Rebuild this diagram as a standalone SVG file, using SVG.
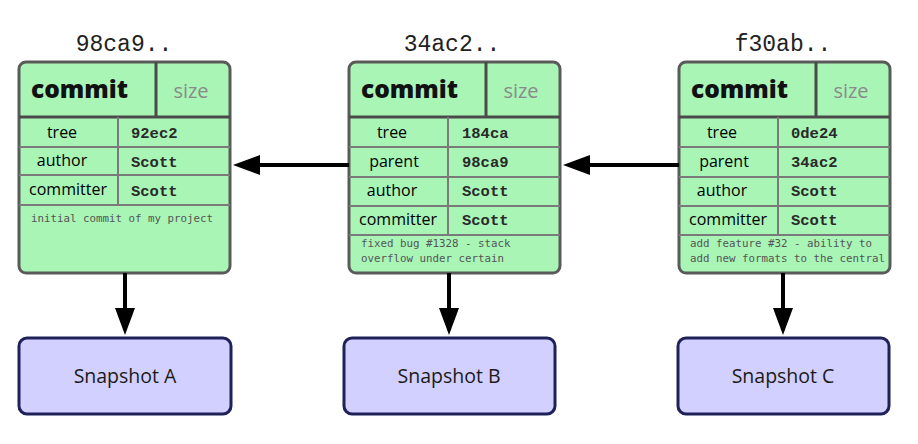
<svg xmlns="http://www.w3.org/2000/svg" width="918" height="444" viewBox="0 0 918 444">
<style>
.box{fill:#a8f5b6;stroke:#5a5a5a;stroke-width:3}
.hd{stroke:#4a4a4a;stroke-width:3;fill:none}
.ln{stroke:#7a7a7a;stroke-width:2;fill:none}
.title{font-family:"Liberation Mono",monospace;font-size:23px;fill:#222;text-anchor:middle}
.commit{font-family:"Open Sans","Noto Sans",sans-serif;font-weight:800;font-size:24.5px;fill:#111}
.size{font-family:"Open Sans","Noto Sans",sans-serif;font-size:20px;fill:#8a8a8a;text-anchor:middle}
.lbl{font-family:"Open Sans","Noto Sans",sans-serif;font-size:16px;fill:#000;text-anchor:middle}
.val{font-family:"Liberation Mono",monospace;font-weight:bold;font-size:15.5px;fill:#2a2a2a}
.msg{font-family:"DejaVu Sans Mono",monospace;font-size:10.8px;fill:#555}
.snap{fill:#d2d0ff;stroke:#1f2258;stroke-width:3}
.snt{font-family:"Open Sans","Noto Sans",sans-serif;font-size:19.5px;fill:#1a1a1a;text-anchor:middle}
.arr{stroke:#000;stroke-width:4;fill:none}
.head{fill:#000}
</style>

<g id="commit-98ca9">
<text class="title" x="124" y="51">98ca9..</text>
<rect class="box" x="19" y="62" width="211" height="211" rx="7"/>
<line class="hd" x1="19" y1="117" x2="230" y2="117"/>
<line class="hd" x1="156" y1="62" x2="156" y2="117"/>
<line class="ln" x1="118" y1="117" x2="118" y2="205"/>
<line class="ln" x1="19" y1="147" x2="230" y2="147"/>
<line class="ln" x1="19" y1="175" x2="230" y2="175"/>
<line class="ln" x1="19" y1="205" x2="230" y2="205"/>
<text class="commit" x="31" y="98">commit</text>
<text class="size" x="191" y="98">size</text>
<text class="lbl" x="62" y="138">tree</text>
<text class="lbl" x="62" y="166">author</text>
<text class="lbl" x="68" y="195">committer</text>
<text class="val" x="131" y="138">92ec2</text>
<text class="val" x="131" y="167">Scott</text>
<text class="val" x="131" y="196">Scott</text>
<text class="msg" x="31" y="222">initial commit of my project</text>
</g>

<g id="commit-34ac2">
<text class="title" x="452" y="51">34ac2..</text>
<rect class="box" x="349" y="62" width="211" height="211" rx="7"/>
<line class="hd" x1="349" y1="117" x2="560" y2="117"/>
<line class="hd" x1="486" y1="62" x2="486" y2="117"/>
<line class="ln" x1="448" y1="117" x2="448" y2="235"/>
<line class="ln" x1="349" y1="147" x2="560" y2="147"/>
<line class="ln" x1="349" y1="177" x2="560" y2="177"/>
<line class="ln" x1="349" y1="206" x2="560" y2="206"/>
<line class="ln" x1="349" y1="235" x2="560" y2="235"/>
<text class="commit" x="361" y="98">commit</text>
<text class="size" x="521" y="98">size</text>
<text class="lbl" x="392" y="138">tree</text>
<text class="lbl" x="394" y="167">parent</text>
<text class="lbl" x="392" y="196">author</text>
<text class="lbl" x="398" y="225">committer</text>
<text class="val" x="462" y="138">184ca</text>
<text class="val" x="462" y="167">98ca9</text>
<text class="val" x="462" y="196">Scott</text>
<text class="val" x="462" y="225">Scott</text>
<text class="msg" x="361" y="247">fixed bug #1328 - stack</text>
<text class="msg" x="361" y="262">overflow under certain</text>
</g>

<g id="commit-f30ab">
<text class="title" x="783" y="51">f30ab..</text>
<rect class="box" x="679" y="62" width="211" height="211" rx="7"/>
<line class="hd" x1="679" y1="117" x2="890" y2="117"/>
<line class="hd" x1="816" y1="62" x2="816" y2="117"/>
<line class="ln" x1="778" y1="117" x2="778" y2="235"/>
<line class="ln" x1="679" y1="147" x2="890" y2="147"/>
<line class="ln" x1="679" y1="177" x2="890" y2="177"/>
<line class="ln" x1="679" y1="206" x2="890" y2="206"/>
<line class="ln" x1="679" y1="235" x2="890" y2="235"/>
<text class="commit" x="691" y="98">commit</text>
<text class="size" x="851" y="98">size</text>
<text class="lbl" x="722" y="138">tree</text>
<text class="lbl" x="724" y="167">parent</text>
<text class="lbl" x="722" y="196">author</text>
<text class="lbl" x="728" y="225">committer</text>
<text class="val" x="791" y="138">0de24</text>
<text class="val" x="791" y="167">34ac2</text>
<text class="val" x="791" y="196">Scott</text>
<text class="val" x="791" y="225">Scott</text>
<text class="msg" x="690" y="247">add feature #32 - ability to</text>
<text class="msg" x="690" y="262">add new formats to the central</text>
</g>

<g id="snapshot-a">
<rect class="snap" x="19" y="338" width="212" height="76" rx="8"/>
<text class="snt" x="125" y="383">Snapshot A</text>
</g>
<g id="snapshot-b">
<rect class="snap" x="344" y="338" width="211" height="76" rx="8"/>
<text class="snt" x="449" y="383">Snapshot B</text>
</g>
<g id="snapshot-c">
<rect class="snap" x="678" y="338" width="211" height="76" rx="8"/>
<text class="snt" x="783" y="383">Snapshot C</text>
</g>

<g id="connectors">
<line class="arr" x1="349" y1="165" x2="255" y2="165"/>
<polygon class="head" points="233,165 260,155 260,175"/>
<line class="arr" x1="679" y1="165" x2="585" y2="165"/>
<polygon class="head" points="563,165 590,155 590,175"/>
<line class="arr" x1="125" y1="273" x2="125" y2="312"/>
<polygon class="head" points="125,335 115,308 135,308"/>
<line class="arr" x1="449" y1="273" x2="449" y2="312"/>
<polygon class="head" points="449,335 439,308 459,308"/>
<line class="arr" x1="783" y1="273" x2="783" y2="312"/>
<polygon class="head" points="783,335 773,308 793,308"/>
</g>
</svg>
